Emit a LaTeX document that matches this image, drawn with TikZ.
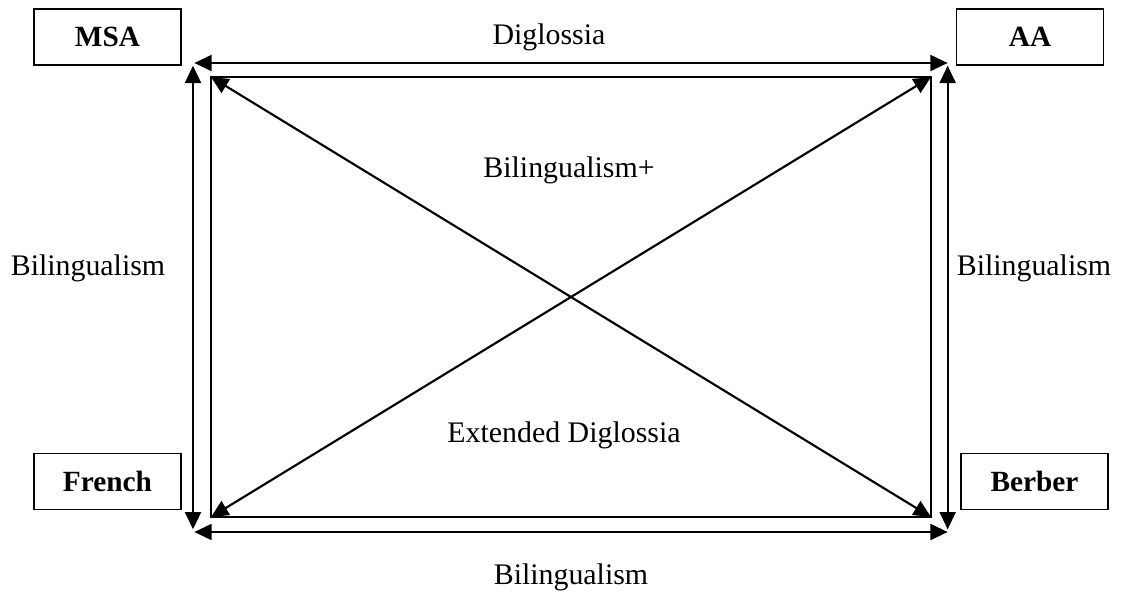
\documentclass[tikz,border=0pt]{standalone}
\usepackage{fontspec}
\setmainfont{Liberation Serif}
\usetikzlibrary{arrows.meta}
\begin{document}
\begin{tikzpicture}[x=0.75pt,y=-0.75pt,
  langbox/.style={draw,line width=1.2pt,minimum width=110pt,minimum height=42pt,inner sep=0pt,font=\fontsize{22}{26}\selectfont\bfseries},
  lab/.style={font=\fontsize{22.4}{26}\selectfont,inner sep=0pt},
  link/.style={line width=1.6pt,{Triangle[length=13pt,width=12pt]}-{Triangle[length=13pt,width=12pt]}},
  edge/.style={line width=1.6pt}]
\useasboundingbox (0,0) rectangle (1122,594);
% language boxes
\node[langbox] (msa) at (107.5,37) {MSA};
\node[langbox] (aa) at (1030,37) {AA};
\node[langbox] (fr) at (107.5,481.5) {French};
\node[langbox] (be) at (1034.5,481.5) {Berber};
% outer corners
\coordinate (otl) at (193,63);
\coordinate (otr) at (949,63);
\coordinate (obl) at (193,532);
\coordinate (obr) at (949,532);
% inner corners
\coordinate (itl) at (211,77);
\coordinate (itr) at (931,77);
\coordinate (ibl) at (211,517);
\coordinate (ibr) at (931,517);
% inner rectangle
\draw[edge] (itl) -- (itr) -- (ibr) -- (ibl) -- cycle;
% outer double arrows
\draw[link] ([xshift=1pt]otl) -- ([xshift=-1pt]otr);
\draw[link] ([xshift=1pt]obl) -- ([xshift=-1pt]obr);
\draw[link] ([yshift=-2pt]otl) -- ([yshift=2pt]obl);
\draw[link] ([yshift=-2pt,xshift=-1pt]otr) -- ([yshift=2pt,xshift=-1pt]obr);
% diagonals
\draw[link] (itl) -- (ibr);
\draw[link] (itr) -- (ibl);
% labels
\node[lab] (dig) at (549,37) {Diglossia};
\node[lab] (bip) at (569,170) {Bilingualism+};
\node[lab] (bil) at (88,268) {Bilingualism};
\node[lab] (bir) at (1034,268) {Bilingualism};
\node[lab] (ext) at (564,435) {Extended Diglossia};
\node[lab] (bib) at (571,577) {Bilingualism};
\end{tikzpicture}
\end{document}
